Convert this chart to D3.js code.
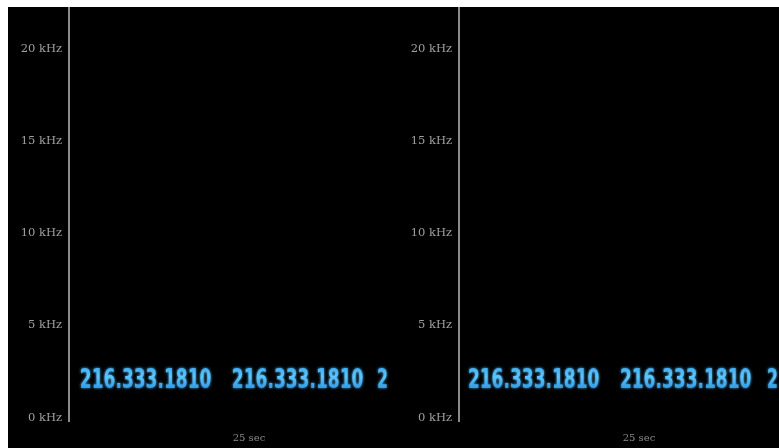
<!DOCTYPE html>
<html>
<head>
<meta charset="utf-8">
<script src="https://cdn.jsdelivr.net/npm/d3@7"></script>
<style>
  html, body { margin: 0; padding: 0; background: #ffffff; }
  svg { display: block; }
</style>
</head>
<body>
<script>
// Frequency ticks (kHz) shown on each spectrogram panel
const freqTicks = [0, 5, 10, 15, 20];
// Time axis caption under each panel
const timeCaption = "25 sec";
// Energy pattern visible in the spectrogram: the encoded number (the last repeat is cut at the panel edge)
const patternText = ["216.333.1810", "216.333.1810", "2"];
// Start time (s) of each repeat of the pattern, per panel
const leftStarts = [0.33, 4.95, 9.36];
const rightStarts = [0.27, 4.89, 9.36];
// Frequency band (kHz) occupied by the pattern and time taken per character (s)
const bandLow = 1.55;
const bandHigh = 2.62;
const charDur = 4.0 / 12;

const W = 779, H = 448;
const panelW = 390, marginTop = 7, marginLeft = 8;

const svg = d3.select("body").append("svg")
  .attr("width", W).attr("height", H);

const defs = svg.append("defs");
const glow = defs.append("filter").attr("id", "glow")
  .attr("x", "-10%").attr("y", "-30%").attr("width", "120%").attr("height", "160%");
glow.append("feGaussianBlur").attr("in", "SourceGraphic").attr("stdDeviation", 1.6).attr("result", "b");
const m = glow.append("feMerge");
m.append("feMergeNode").attr("in", "b");
m.append("feMergeNode").attr("in", "SourceGraphic");

const soft = defs.append("filter").attr("id", "soft");
soft.append("feGaussianBlur").attr("stdDeviation", 0.45);

const grad = defs.append("linearGradient").attr("id", "blueGrad")
  .attr("x1", 0).attr("y1", 0).attr("x2", 0).attr("y2", 1);
grad.append("stop").attr("offset", "0%").attr("stop-color", "#2f9fea");
grad.append("stop").attr("offset", "45%").attr("stop-color", "#5cc6ff");
grad.append("stop").attr("offset", "100%").attr("stop-color", "#1f86d6");

// black canvas
svg.append("rect").attr("x", marginLeft).attr("y", marginTop)
  .attr("width", W - marginLeft).attr("height", H - marginTop).attr("fill", "#000");

const y = d3.scaleLinear().domain([0, 20]).range([416.4, 48]);

function panel(x0, starts, idx) {
  const axisX = x0 + 61;
  const plotRight = Math.min(x0 + panelW, W);
  const x = d3.scaleLinear().domain([0, 10]).range([axisX, axisX + 329]);

  const clipId = "clip" + idx;
  defs.append("clipPath").attr("id", clipId)
    .append("rect").attr("x", axisX + 1).attr("y", marginTop)
    .attr("width", plotRight - axisX - 1).attr("height", H - marginTop);

  const g = svg.append("g");

  // pattern energy: each repeat fitted to its time span and frequency band
  const marks = g.append("g").attr("clip-path", `url(#${clipId})`)
    .append("g").attr("filter", "url(#glow)");
  const bandH = y(bandLow) - y(bandHigh);
  marks.selectAll("text").data(starts.map((s, i) => ({ s, t: patternText[i] })))
    .join("text")
    .attr("x", 0).attr("y", 0)
    .attr("font-family", "'DejaVu Sans Condensed', 'DejaVu Sans', sans-serif")
    .attr("font-weight", "bold")
    .attr("font-size", 20)
    .attr("fill", "url(#blueGrad)")
    .text(d => d.t)
    .each(function (d) {
      const el = d3.select(this);
      const w0 = this.getComputedTextLength();
      const targetW = x(d.s + charDur * d.t.length) - x(d.s);
      const fs = 20 * targetW / w0;
      const sy = bandH / (0.73 * fs);
      el.attr("font-size", fs)
        .attr("transform", `translate(${x(d.s)},${y(bandLow)}) scale(1,${sy})`);
    });

  // frequency axis
  const ax = g.append("g").attr("transform", `translate(${axisX},0)`)
    .call(d3.axisLeft(y).tickValues(freqTicks).tickFormat(d => d + " kHz")
      .tickSize(0).tickPadding(7));
  ax.select(".domain").remove();
  ax.selectAll("text")
    .attr("font-family", "'DejaVu Serif', serif")
    .attr("font-size", 11.5)
    .attr("fill", "#a0a0a0")
    .attr("filter", "url(#soft)");

  g.append("line")
    .attr("x1", axisX).attr("x2", axisX)
    .attr("y1", marginTop).attr("y2", 422)
    .attr("stroke", "#8a8a8a").attr("stroke-width", 2);

  g.append("text")
    .attr("x", axisX + 180).attr("y", 441)
    .attr("text-anchor", "middle")
    .attr("font-family", "'DejaVu Serif', serif")
    .attr("font-size", 10)
    .attr("fill", "#8c8c8c")
    .attr("filter", "url(#soft)")
    .text(timeCaption);
}

panel(marginLeft, leftStarts, 0);
panel(marginLeft + panelW, rightStarts, 1);
</script>
</body>
</html>
